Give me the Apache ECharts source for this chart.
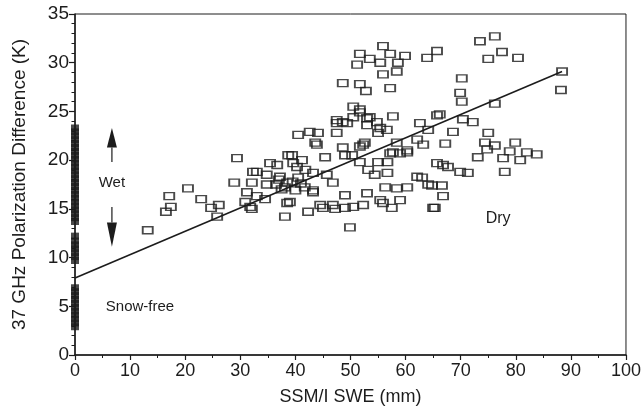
<!DOCTYPE html>
<html>
<head>
<meta charset="utf-8">
<script src="https://cdn.jsdelivr.net/npm/echarts@6/dist/echarts.min.js"></script>
<style>html,body{margin:0;padding:0;background:#fff;}#c{width:644px;height:412px;}</style>
</head>
<body>
<div id="c"></div>
<script>
// x = SSM/I SWE (mm), y = 37 GHz polarization difference (K)
const snowPoints = [
[13.2,12.8],[16.5,14.7],[17.4,15.2],[17.1,16.3],[20.5,17.1],[22.9,16.0],[24.7,15.1],[26.1,15.4],[25.8,14.2],[29.4,20.2],
[28.9,17.7],[32.1,17.7],[32.3,18.8],[33.0,18.8],[31.2,16.7],[30.9,15.7],[31.8,15.2],[32.1,15.0],[33.0,16.3],[34.5,16.0],
[34.8,17.5],[34.8,18.5],[35.4,19.7],[36.7,19.5],[37.2,18.3],[38.1,17.2],[38.5,15.6],[38.1,14.2],[38.7,20.5],
[38.5,17.7],[39.4,20.5],[39.6,19.7],[40.5,22.6],[41.2,20.0],[42.6,22.9],[44.1,22.8],[43.2,18.7],[43.9,21.6],[45.4,20.3],
[45.7,18.5],[46.8,17.7],[43.2,16.7],[41.7,17.2],[39.0,15.7],[42.3,14.7],[44.5,15.4],[45.0,15.1],[46.8,15.4],[47.2,15.0],
[49.0,16.4],[49.0,15.1],[50.5,15.2],[52.3,15.4],[53.0,16.6],[49.9,13.1],[48.6,21.3],[49.0,20.5],[50.3,20.5],[51.7,19.8],
[52.3,21.6],[53.2,19.0],[54.4,18.5],[55.0,19.8],[56.7,18.7],[56.3,17.2],[58.4,17.1],[60.3,17.2],[55.4,15.9],[55.9,15.6],
[57.5,15.1],[59.0,15.9],[56.7,19.8],[57.7,20.8],[58.4,21.8],[60.3,20.8],[62.1,22.1],[63.2,21.6],[64.1,23.1],[63.0,18.2],
[64.1,17.5],[65.0,15.1],[65.7,19.7],[47.5,23.8],[49.4,23.8],[53.0,23.6],[55.4,23.3],[62.6,23.8],
[68.6,22.9],[67.2,21.7],[75.0,22.8],[74.4,21.8],[76.2,21.5],[73.1,20.3],[74.8,21.1],[79.9,21.8],[78.9,20.9],[77.7,20.2],
[80.8,20.0],[82.0,20.8],[83.8,20.6],[78.0,18.8],[66.8,19.5],[67.7,19.3],[69.9,18.8],[71.3,18.7],[64.8,17.4],[66.6,17.4],
[66.8,16.3],[65.3,15.1],
[55.9,31.7],[51.7,30.9],[53.5,30.4],[55.4,30.0],[51.2,29.8],[57.2,30.9],[59.9,30.7],[58.6,30.0],[58.4,29.1],[55.9,28.8],
[48.6,27.9],[51.7,27.8],[52.8,27.1],[57.2,27.4],[63.9,30.5],[65.7,31.2],[50.5,25.5],[51.7,24.9],[47.5,24.1],[53.0,24.3],
[57.7,24.5],[65.7,24.6],
[73.5,32.2],[76.2,32.7],[77.5,31.1],[75.0,30.4],[80.4,30.5],[70.2,28.4],[69.9,26.9],[70.2,26.0],[76.2,25.8],[88.4,29.1],
[88.2,27.2],[66.2,24.7],[70.4,24.2],[72.2,23.9],
[36.5,17.5],[37.5,17.0],[39.5,17.8],[40.5,18.2],[37.0,18.0],[40.0,16.9],[41.0,17.6],[43.6,21.8],[51.7,21.4],[52.6,21.8],
[47.5,22.8],[62.1,18.3],[57.2,20.7],[59.0,20.7],[60.3,21.0],[55.0,22.8],[56.6,23.1],[54.8,23.9],[53.5,24.4],[51.7,25.2],
[50.5,24.4],[48.6,23.9],[43.2,16.9],[41.8,19.0],[40.3,19.3]
];
// SWE = 0 observations (wet snow and snow-free), y values
const zeroSweY = [2.9,3.3,3.7,4.1,4.5,4.9,5.3,5.7,6.1,6.5,6.9,
  9.7,10.1,10.5,10.9,11.3,11.7,12.2,
  13.7,14.1,14.5,14.9,15.3,15.7,16.1,16.5,16.9,17.3,17.7,18.1,18.5,18.9,19.3,19.7,20.1,20.5,20.9,21.3,21.7,22.1,22.5,22.9,23.3];
const regression = [[0,7.9],[88.4,29.1]];
const xTicks = [0,10,20,30,40,50,60,70,80,90,100];
const yTicks = [0,5,10,15,20,25,30,35];

const ink = '#1c1c1c';
const font = '"Liberation Sans", Arial, Helvetica, sans-serif';
const chart = echarts.init(document.getElementById('c'), null, {renderer:'canvas'});
chart.setOption({
  backgroundColor: '#ffffff',
  animation: false,
  grid: {left: 75, right: 18, top: 14, bottom: 57, show: true, borderColor: ink, borderWidth: 1, backgroundColor: 'transparent'},
  xAxis: {
    type: 'value', min: xTicks[0], max: xTicks[xTicks.length-1], interval: 10,
    name: 'SSM/I SWE (mm)', nameLocation: 'middle', nameGap: 33,
    nameTextStyle: {color: ink, fontSize: 18, fontFamily: font},
    axisLine: {onZero: false, lineStyle: {color: ink, width: 1.5}},
    axisTick: {show: true, inside: false, length: 5, lineStyle: {color: ink, width: 1.2}},
    minorTick: {show: true, splitNumber: 2, length: 3, lineStyle: {color: ink, width: 1}},
    axisLabel: {color: ink, fontSize: 18, fontFamily: font, margin: 7},
    splitLine: {show: false}
  },
  yAxis: {
    type: 'value', min: yTicks[0], max: yTicks[yTicks.length-1], interval: 5,
    name: '37 GHz Polarization Difference (K)', nameLocation: 'middle', nameGap: 46,
    nameTextStyle: {color: ink, fontSize: 19, fontFamily: font},
    axisLine: {onZero: false, lineStyle: {color: ink, width: 1.5}},
    axisTick: {show: true, inside: false, length: 6, lineStyle: {color: ink, width: 1.2}},
    minorTick: {show: true, splitNumber: 5, length: 3.5, lineStyle: {color: ink, width: 1}},
    axisLabel: {color: ink, fontSize: 19, fontFamily: font, margin: 6},
    splitLine: {show: false}
  },
  series: [
    {
      type: 'scatter', data: zeroSweY.map(v => [0, v]), symbol: 'rect', symbolSize: [8, 7],
      itemStyle: {color: ink, borderWidth: 0}, z: 3, clip: false
    },
    {
      type: 'scatter', data: snowPoints, symbol: 'rect', symbolSize: [10, 7],
      itemStyle: {color: 'rgba(255,255,255,0)', borderColor: ink, borderWidth: 1.6}, z: 3
    },
    {
      type: 'line', data: regression, symbol: 'none', lineStyle: {color: ink, width: 1.6}, z: 4
    }
  ]
});

const P = (x, y) => chart.convertToPixel({gridIndex: 0}, [x, y]);
const ax = 6.7;
const wet = P(ax, 17.7), up1 = P(ax, 19.8), up2 = P(ax, 21.3), up3 = P(ax, 23.3);
const dn1 = P(ax, 15.2), dn2 = P(ax, 13.6), dn3 = P(ax, 11.1);
const snowFree = P(11.8, 4.9), dry = P(76.8, 14.0);
chart.setOption({
  graphic: [
    {type: 'text', x: wet[0], y: wet[1], style: {text: 'Wet', fill: ink, fontSize: 15, fontFamily: font, align: 'center', verticalAlign: 'middle'}},
    {type: 'line', shape: {x1: up1[0], y1: up1[1], x2: up2[0], y2: up2[1]}, style: {stroke: ink, lineWidth: 1.2}},
    {type: 'polygon', shape: {points: [[up3[0], up3[1]], [up2[0]-5, up2[1]], [up2[0]+5, up2[1]]]}, style: {fill: ink}},
    {type: 'line', shape: {x1: dn1[0], y1: dn1[1], x2: dn2[0], y2: dn2[1]}, style: {stroke: ink, lineWidth: 1.2}},
    {type: 'polygon', shape: {points: [[dn3[0], dn3[1]], [dn2[0]-5, dn2[1]], [dn2[0]+5, dn2[1]]]}, style: {fill: ink}},
    {type: 'text', x: snowFree[0], y: snowFree[1], style: {text: 'Snow-free', fill: ink, fontSize: 15, fontFamily: font, align: 'center', verticalAlign: 'middle'}},
    {type: 'text', x: dry[0], y: dry[1], style: {text: 'Dry', fill: ink, fontSize: 16, fontFamily: font, align: 'center', verticalAlign: 'middle'}}
  ]
});
</script>
</body>
</html>
